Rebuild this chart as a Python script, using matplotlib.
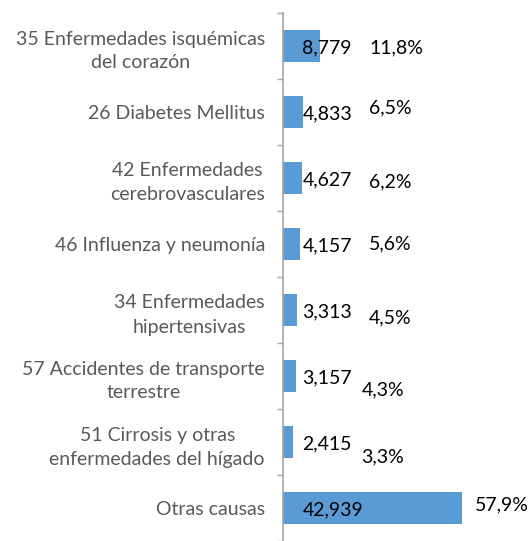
import matplotlib
matplotlib.use('Agg')
import matplotlib.pyplot as plt
import numpy as np

plt.rcParams['font.family'] = ['Lato', 'DejaVu Sans']

causes = ['35 Enfermedades isquémicas\ndel corazón',
          '26 Diabetes Mellitus',
          '42 Enfermedades\ncerebrovasculares',
          '46 Influenza y neumonía',
          '34 Enfermedades\nhipertensivas',
          '57 Accidentes de transporte\nterrestre',
          '51 Cirrosis y otras\nenfermedades del hígado',
          'Otras causas']
deaths = [8779, 4833, 4627, 4157, 3313, 3157, 2415, 42939]
value_labels = ['8,779', '4,833', '4,627', '4,157', '3,313', '3,157', '2,415', '42,939']
pct_labels = ['11,8%', '6,5%', '6,2%', '5,6%', '4,5%', '4,3%', '3,3%', '57,9%']

# small nudges for the percent labels (points)
pct_dy = [-1, 3, -3, 0, -6, -10, -11, 2]
pct_dx = [62, 62, 62, 62, 62, 57, 56, 9]

fig = plt.figure(figsize=(5.28, 5.41), dpi=100)
ax = fig.add_axes([283 / 528, 0.0, 1 - 283 / 528, 1 - 13 / 541])

y = np.arange(len(causes))
bars = ax.barh(y, deaths, height=0.48, color='#5B9BD5')

ax.set_ylim(len(causes) - 0.5, -0.5)
ax.set_xlim(0, 58770)

for i, b in enumerate(bars):
    ax.annotate(value_labels[i], xy=(0, y[i]), xytext=(14, -1.5),
                textcoords='offset points', ha='left', va='center',
                fontsize=14, color='black')
    xref = deaths[i] if i == len(causes) - 1 else 0
    ax.annotate(pct_labels[i], xy=(xref, y[i]), xytext=(pct_dx[i], pct_dy[i]),
                textcoords='offset points', ha='left', va='center',
                fontsize=14, color='black')

ax.set_yticks(y)
ax.set_yticklabels(causes, multialignment='center', linespacing=1.5,
                   fontsize=14, color='#595959')
ax.set_yticks(np.arange(-0.5, len(causes), 1), minor=True)
ax.tick_params(axis='y', which='major', length=0, pad=13)
ax.tick_params(axis='y', which='minor', length=4, color='#A6A6A6', width=1)
ax.set_xticks([])

for s in ['top', 'right', 'bottom']:
    ax.spines[s].set_visible(False)
ax.spines['left'].set_color('#A6A6A6')
ax.spines['left'].set_linewidth(1.2)

fig.savefig('out.png', dpi=100)
